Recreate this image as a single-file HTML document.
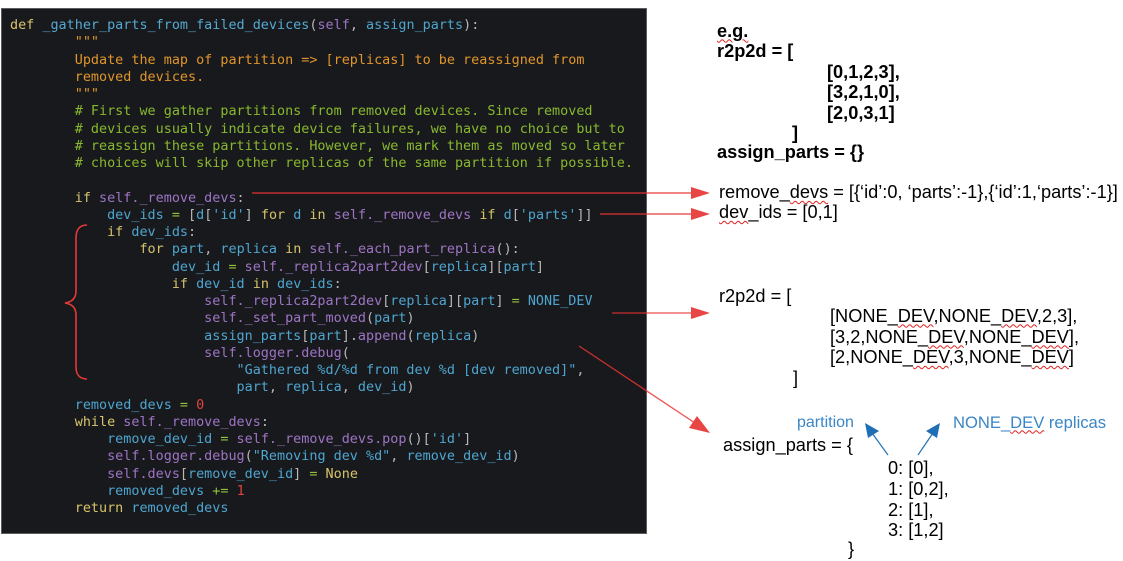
<!DOCTYPE html>
<html>
<head>
<meta charset="utf-8">
<style>
html,body{margin:0;padding:0;background:#fff;}
body{width:1123px;height:561px;position:relative;overflow:hidden;}
#panel{position:absolute;left:1px;top:8px;width:644px;height:524px;background:#18191c;border:1px solid #5c5c5c;}
pre{position:absolute;left:10px;top:17px;margin:0;font-family:"DejaVu Sans Mono","Liberation Mono",monospace;font-size:13.44px;line-height:17.25px;color:#b8b8b8;white-space:pre;}
.k{color:#d6c36b}.f{color:#56a8d0}.s{color:#9d74c4}.v{color:#4ea5cf}.o{color:#95c23f}.p{color:#b8b8b8}.n{color:#e0443c}.d{color:#e0952b}.c{color:#88b82e}
.t{position:absolute;font-family:"Liberation Sans",sans-serif;font-size:18.2px;line-height:20px;color:#000;white-space:pre;}
.b{font-weight:bold;}
.bl{position:absolute;font-family:"Liberation Sans",sans-serif;font-size:16px;line-height:18px;color:#3a86c6;white-space:pre;}
.w{text-decoration:underline wavy #e02020;text-decoration-thickness:1px;text-underline-offset:2px;}
svg{position:absolute;left:0;top:0;}
</style>
</head>
<body>
<div id="panel"></div>
<pre><span class="k">def</span> <span class="f">_gather_parts_from_failed_devices</span>(<span class="s">self</span>, <span class="v">assign_parts</span>):
        <span class="d">"""</span>
        <span class="d">Update the map of partition =&gt; [replicas] to be reassigned from</span>
        <span class="d">removed devices.</span>
        <span class="d">"""</span>
        <span class="c"># First we gather partitions from removed devices. Since removed</span>
        <span class="c"># devices usually indicate device failures, we have no choice but to</span>
        <span class="c"># reassign these partitions. However, we mark them as moved so later</span>
        <span class="c"># choices will skip other replicas of the same partition if possible.</span>

        <span class="k">if</span> <span class="s">self._remove_devs</span>:
            <span class="v">dev_ids</span> <span class="o">=</span> [<span class="v">d</span>[<span class="v">'id'</span>] <span class="k">for</span> <span class="v">d</span> <span class="k">in</span> <span class="s">self._remove_devs</span> <span class="k">if</span> <span class="v">d</span>[<span class="v">'parts'</span>]]
            <span class="k">if</span> <span class="v">dev_ids</span>:
                <span class="k">for</span> <span class="v">part</span>, <span class="v">replica</span> <span class="k">in</span> <span class="s">self._each_part_replica</span>():
                    <span class="v">dev_id</span> <span class="o">=</span> <span class="s">self._replica2part2dev</span>[<span class="v">replica</span>][<span class="v">part</span>]
                    <span class="k">if</span> <span class="v">dev_id</span> <span class="k">in</span> <span class="v">dev_ids</span>:
                        <span class="s">self._replica2part2dev</span>[<span class="v">replica</span>][<span class="v">part</span>] <span class="o">=</span> <span class="v">NONE_DEV</span>
                        <span class="s">self._set_part_moved</span>(<span class="v">part</span>)
                        <span class="v">assign_parts</span>[<span class="v">part</span>].<span class="s">append</span>(<span class="v">replica</span>)
                        <span class="s">self.logger.debug</span>(
                            <span class="v">"Gathered %d/%d from dev %d [dev removed]"</span>,
                            <span class="v">part</span>, <span class="v">replica</span>, <span class="v">dev_id</span>)
        <span class="v">removed_devs</span> <span class="o">=</span> <span class="n">0</span>
        <span class="k">while</span> <span class="s">self._remove_devs</span>:
            <span class="v">remove_dev_id</span> <span class="o">=</span> <span class="s">self._remove_devs.pop</span>()[<span class="v">'id'</span>]
            <span class="s">self.logger.debug</span>(<span class="v">"Removing dev %d"</span>, <span class="v">remove_dev_id</span>)
            <span class="s">self.devs</span>[<span class="v">remove_dev_id</span>] <span class="o">=</span> <span class="k">None</span>
            <span class="v">removed_devs</span> <span class="o">+=</span> <span class="n">1</span>
        <span class="k">return</span> <span class="v">removed_devs</span></pre>

<svg width="1123" height="561" viewBox="0 0 1123 561">
  <path d="M87,225 C80,225 76,229 76,238 L76,291 C76,298 72,302 65,303 C72,304 76,308 76,315 L76,367 C76,375 80,379 87,379" fill="none" stroke="#e53935" stroke-width="1.6"/>
  <line x1="252" y1="193" x2="693" y2="193" stroke="rgba(235,50,50,0.6)" stroke-width="2"/>
  <polygon points="710,193 691,187 691,199" fill="#e84545"/>
  <line x1="600" y1="214" x2="693" y2="214" stroke="rgba(235,50,50,0.6)" stroke-width="2"/>
  <polygon points="710,214 691,208 691,220" fill="#e84545"/>
  <line x1="612" y1="313" x2="693" y2="313" stroke="rgba(235,50,50,0.85)" stroke-width="1.3"/>
  <polygon points="710,313 691,307 691,319" fill="#e84545"/>
  <line x1="579" y1="346" x2="695" y2="423" stroke="rgba(235,50,50,0.85)" stroke-width="1.3"/>
  <polygon points="710,433 689,428 697,416" fill="#e84545"/>
  <line x1="888" y1="455" x2="872" y2="433" stroke="#2e78b8" stroke-width="1.3"/>
  <polygon points="865,423 879,431 868,438" fill="#1f6fb4"/>
  <line x1="918" y1="455" x2="933" y2="433" stroke="#2e78b8" stroke-width="1.3"/>
  <polygon points="940,423 937,438 926,431" fill="#1f6fb4"/>
</svg>

<div class="t b" style="left:717px;top:20.5px;"><span class="w">e.g.</span></div>
<div class="t b" style="left:717px;top:41px;">r2p2d = [</div>
<div class="t b" style="left:827px;top:61.5px;">[0,1,2,3],</div>
<div class="t b" style="left:827px;top:82px;">[3,2,1,0],</div>
<div class="t b" style="left:827px;top:102.5px;">[2,0,3,1]</div>
<div class="t b" style="left:792px;top:122.5px;">]</div>
<div class="t b" style="left:717px;top:141.5px;">assign_parts = {}</div>

<div class="t" style="left:719px;top:182px;">remove_<span class="w">devs</span> = [{‘id’:0, ‘parts’:-1},{‘id’:1,‘parts’:-1}]</div>
<div class="t" style="left:719px;top:202px;"><span class="w">dev</span>_ids = [0,1]</div>

<div class="t" style="left:719px;top:286px;">r2p2d = [</div>
<div class="t" style="left:830px;top:305.5px;">[NONE_<span class="w">DEV</span>,NONE_<span class="w">DEV</span>,2,3],</div>
<div class="t" style="left:830px;top:326.5px;">[3,2,NONE_<span class="w">DEV</span>,NONE_<span class="w">DEV</span>],</div>
<div class="t" style="left:830px;top:347px;">[2,NONE_<span class="w">DEV</span>,3,NONE_<span class="w">DEV</span>]</div>
<div class="t" style="left:793px;top:367.5px;">]</div>

<div class="bl" style="left:797px;top:414px;">partition</div>
<div class="bl" style="left:953px;top:413.5px;font-size:16.6px;">NONE_<span class="w">DEV</span> replicas</div>

<div class="t" style="left:723px;top:435px;">assign_parts = {</div>
<div class="t" style="left:888px;top:458px;">0: [0],</div>
<div class="t" style="left:888px;top:479px;">1: [0,2],</div>
<div class="t" style="left:888px;top:500px;">2: [1],</div>
<div class="t" style="left:888px;top:520px;">3: [1,2]</div>
<div class="t" style="left:848px;top:539px;">}</div>
</body>
</html>
